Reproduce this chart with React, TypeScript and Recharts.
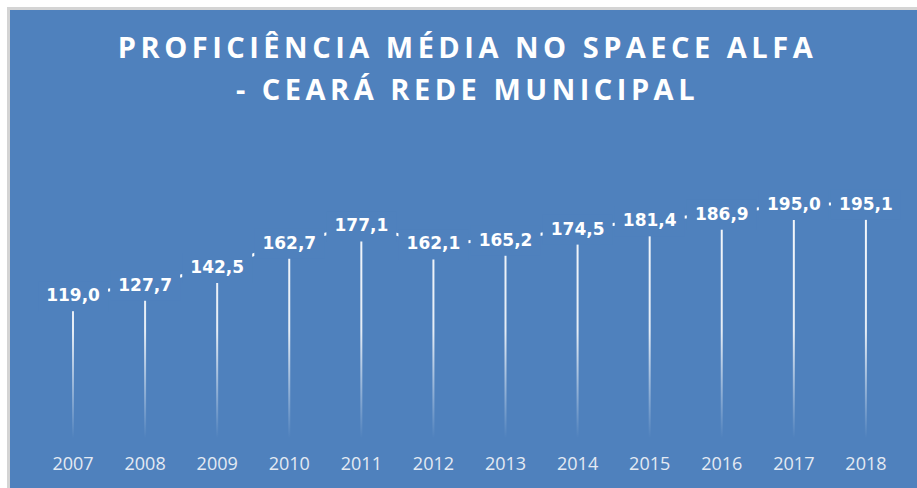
import React from 'react';
import { ComposedChart, Bar, Line, XAxis, YAxis, LabelList } from 'recharts';

const years = ['2007', '2008', '2009', '2010', '2011', '2012', '2013', '2014', '2015', '2016', '2017', '2018'];
const proficiency = [119.0, 127.7, 142.5, 162.7, 177.1, 162.1, 165.2, 174.5, 181.4, 186.9, 195.0, 195.1];
const titleLines = ['PROFICIÊNCIA MÉDIA NO SPAECE ALFA', '- CEARÁ REDE MUNICIPAL'];

const data = years.map((y, i) => ({ year: y, value: proficiency[i] }));

const BLUE = '#4f81bd';

const fmt = (v: number) => v.toFixed(1).replace('.', ',');

const BoxLabel = (props: any) => {
  const { x, y, value } = props;
  if (x == null || y == null) return null;
  return (
    <g>
      <rect x={x - 35} y={y - 14} width={70} height={30} fill={BLUE} />
      <text
        x={x}
        y={y}
        textAnchor="middle"
        dominantBaseline="central"
        fill="#ffffff"
        fontFamily="'DejaVu Sans', Verdana, sans-serif"
        fontWeight="bold"
        fontSize={17}
      >
        {fmt(Number(value))}
      </text>
    </g>
  );
};

export default function App() {
  return (
    <div style={{ position: 'absolute', left: 0, top: 0, width: 917, height: 488, background: '#ffffff', overflow: 'hidden' }}>
      <div style={{ position: 'absolute', left: 7, top: 7, width: 910, height: 481, background: '#d4d4d4' }} />
      <div style={{ position: 'absolute', left: 10, top: 10, width: 907, height: 478, background: BLUE }} />
      {titleLines.map((t, i) => (
        <div
          key={i}
          style={{
            position: 'absolute',
            left: 14,
            width: 907,
            top: i === 0 ? 27 : 69,
            textAlign: 'center',
            color: '#ffffff',
            fontFamily: "'Open Sans', sans-serif",
            fontWeight: 700,
            fontSize: 29,
            letterSpacing: 4.5,
            lineHeight: '40px',
            whiteSpace: 'nowrap',
          }}
        >
          {t}
        </div>
      ))}
      <div style={{ position: 'absolute', left: 0, top: 0 }}>
        <ComposedChart width={917} height={488} data={data} margin={{ top: 138, right: 15, bottom: 20, left: 37 }}>
          <defs>
            <linearGradient id="dropGrad" gradientUnits="userSpaceOnUse" x1="0" y1="200" x2="0" y2="438">
              <stop offset="0" stopColor="#ffffff" stopOpacity={0.95} />
              <stop offset="0.55" stopColor="#ffffff" stopOpacity={0.85} />
              <stop offset="1" stopColor="#ffffff" stopOpacity={0} />
            </linearGradient>
          </defs>
          <XAxis
            dataKey="year"
            axisLine={false}
            tickLine={false}
            tickMargin={13}
            height={30}
            interval={0}
            tick={{ fill: '#e4eaf3', fontSize: 18, fontFamily: "'Open Sans', sans-serif" }}
          />
          <YAxis hide domain={[0, 250]} />
          <Bar dataKey="value" barSize={2} fill="url(#dropGrad)" isAnimationActive={false} />
          <Line dataKey="value" stroke="#ffffff" strokeWidth={3} dot={false} isAnimationActive={false}>
            <LabelList dataKey="value" content={BoxLabel} />
          </Line>
        </ComposedChart>
      </div>
    </div>
  );
}
